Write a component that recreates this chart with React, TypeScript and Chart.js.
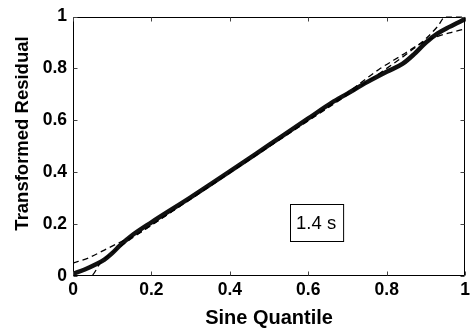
import React, { useEffect, useRef } from "react";
import { Chart, registerables } from "chart.js";

Chart.register(...registerables);

// Thick solid curve: transformed residual vs sine quantile
const residX = [0, 0.03, 0.06, 0.08, 0.1, 0.12, 0.15, 0.2, 0.3, 0.4, 0.5, 0.6, 0.66, 0.7, 0.75, 0.8, 0.84, 0.87, 0.9, 0.93, 0.96, 1.0];
const residY = [0.008, 0.025, 0.046, 0.063, 0.088, 0.118, 0.156, 0.207, 0.303, 0.403, 0.505, 0.607, 0.668, 0.703, 0.747, 0.787, 0.817, 0.855, 0.9, 0.935, 0.96, 0.99];

// Dashed bound A (above at start, below at end)
const boundAX = [0, 0.04, 0.08, 0.12, 0.16, 0.2, 0.3, 0.4, 0.5, 0.6, 0.7, 0.78, 0.84, 0.88, 0.92, 0.96, 1.0];
const boundAY = [0.05, 0.07, 0.1, 0.13, 0.158, 0.196, 0.298, 0.4, 0.5, 0.602, 0.706, 0.796, 0.852, 0.89, 0.918, 0.937, 0.952];

// Dashed bound B (below at start, above at end)
const boundBX = [0, 0.045, 0.07, 0.1, 0.14, 0.2, 0.3, 0.4, 0.5, 0.6, 0.7, 0.8, 0.86, 0.9, 0.93, 0.95, 1.0];
const boundBY = [0, 0, 0.05, 0.09, 0.135, 0.196, 0.296, 0.397, 0.498, 0.598, 0.698, 0.8, 0.866, 0.915, 0.962, 1.0, 1.0];

const xTicks = [0, 0.2, 0.4, 0.6, 0.8, 1];
const yTicks = [0, 0.2, 0.4, 0.6, 0.8, 1];
const xTitle = "Sine Quantile";
const yTitle = "Transformed Residual";
const noteText = "1.4 s";
const noteX = 0.62;
const noteY = 0.205;

const FONT = '"Liberation Sans", Arial, Helvetica, sans-serif';

const toPoints = (xs: number[], ys: number[]) => xs.map((x, i) => ({ x, y: ys[i] }));
const fmt = (v: number) => (v === 0 ? "0" : v === 1 ? "1" : v.toFixed(1));

const boxPlugin = {
  id: "matlabBox",
  afterDatasetsDraw(chart: any) {
    const { ctx, chartArea, scales } = chart;
    const { left, right, top, bottom } = chartArea;
    const xs = scales.x;
    const ys = scales.y;
    const L = Math.round(left) + 0.5;
    const R = Math.round(right) - 0.5;
    const T = Math.round(top) + 0.5;
    const B = Math.round(bottom) - 0.5;
    ctx.save();
    ctx.strokeStyle = "#000";
    ctx.lineWidth = 1;
    ctx.beginPath();
    ctx.rect(L, T, R - L, B - T);
    ctx.stroke();
    ctx.strokeStyle = "#444";
    ctx.beginPath();
    const tl = 4;
    xTicks.forEach((v) => {
      const px = Math.round(xs.getPixelForValue(v)) + 0.5;
      ctx.moveTo(px, B);
      ctx.lineTo(px, B - tl);
      ctx.moveTo(px, T);
      ctx.lineTo(px, T + tl);
    });
    yTicks.forEach((v) => {
      const py = Math.round(ys.getPixelForValue(v)) + 0.5;
      ctx.moveTo(L, py);
      ctx.lineTo(L + tl, py);
      ctx.moveTo(R, py);
      ctx.lineTo(R - tl, py);
    });
    ctx.stroke();

    // note box
    const cx = xs.getPixelForValue(noteX);
    const cy = ys.getPixelForValue(noteY);
    ctx.font = `18.5px ${FONT}`;
    const w = ctx.measureText(noteText).width + 13;
    const h = 37;
    const bx = Math.round(cx - w / 2) + 0.5;
    const by = Math.round(cy - h / 2) + 0.5;
    ctx.fillStyle = "#fff";
    ctx.fillRect(bx, by, w, h);
    ctx.strokeStyle = "#000";
    ctx.lineWidth = 1;
    ctx.strokeRect(bx, by, w, h);
    ctx.fillStyle = "#000";
    ctx.textAlign = "center";
    ctx.textBaseline = "middle";
    ctx.fillText(noteText, cx, cy + 1);

    // y title
    ctx.save();
    ctx.translate(23, 133.5);
    ctx.rotate(-Math.PI / 2);
    ctx.font = `bold 18.5px ${FONT}`;
    ctx.fillText(yTitle, 0, 0);
    ctx.restore();
    ctx.restore();
  },
};

export default function App() {
  const ref = useRef<HTMLCanvasElement | null>(null);
  useEffect(() => {
    if (!ref.current) return;
    const chart = new Chart(ref.current, {
      type: "scatter",
      data: {
        datasets: [
          {
            data: toPoints(boundAX, boundAY),
            showLine: true,
            borderColor: "#000",
            borderWidth: 1.3,
            borderDash: [6, 4],
            pointRadius: 0,
            cubicInterpolationMode: "monotone",
          },
          {
            data: toPoints(boundBX, boundBY),
            showLine: true,
            borderColor: "#000",
            borderWidth: 1.3,
            borderDash: [6, 4],
            pointRadius: 0,
            cubicInterpolationMode: "monotone",
          },
          {
            data: toPoints(residX, residY),
            showLine: true,
            borderColor: "#111",
            borderWidth: 4.5,
            pointRadius: 0,
            cubicInterpolationMode: "monotone",
            borderCapStyle: "round",
            borderJoinStyle: "round",
          },
        ] as any,
      },
      options: {
        responsive: false,
        animation: false,
        devicePixelRatio: 1,
        layout: { padding: { top: 13, right: 8, left: 0, bottom: 0 } },
        plugins: { legend: { display: false }, tooltip: { enabled: false } },
        scales: {
          x: {
            type: "linear",
            min: 0,
            max: 1,
            grid: { display: false, drawTicks: false },
            border: { display: false },
            afterBuildTicks: (axis: any) => {
              axis.ticks = xTicks.map((v) => ({ value: v }));
            },
            afterFit: (axis: any) => {
              axis.height = 57;
            },
            ticks: {
              padding: 4,
              color: "#000",
              maxRotation: 0,
              font: { family: FONT, size: 17.5, weight: "bold" },
              callback: (v: any) => fmt(Number(v)),
            },
            title: {
              display: true,
              text: xTitle,
              color: "#000",
              font: { family: FONT, size: 20, weight: "bold" },
              padding: { top: 0, bottom: 3 },
            },
          },
          y: {
            type: "linear",
            min: 0,
            max: 1,
            grid: { display: false, drawTicks: false },
            border: { display: false },
            afterBuildTicks: (axis: any) => {
              axis.ticks = yTicks.map((v) => ({ value: v }));
            },
            afterFit: (axis: any) => {
              axis.width = 73;
            },
            ticks: {
              padding: 6,
              color: "#000",
              font: { family: FONT, size: 17.5, weight: "bold" },
              callback: (v: any) => fmt(Number(v)),
            },
          },
        },
      } as any,
      plugins: [boxPlugin],
    });
    return () => chart.destroy();
  }, []);
  return (
    <div style={{ position: "fixed", left: 0, top: 0, width: 474, height: 333, background: "#fff" }}>
      <canvas ref={ref} width={474} height={333} style={{ display: "block" }} />
    </div>
  );
}
